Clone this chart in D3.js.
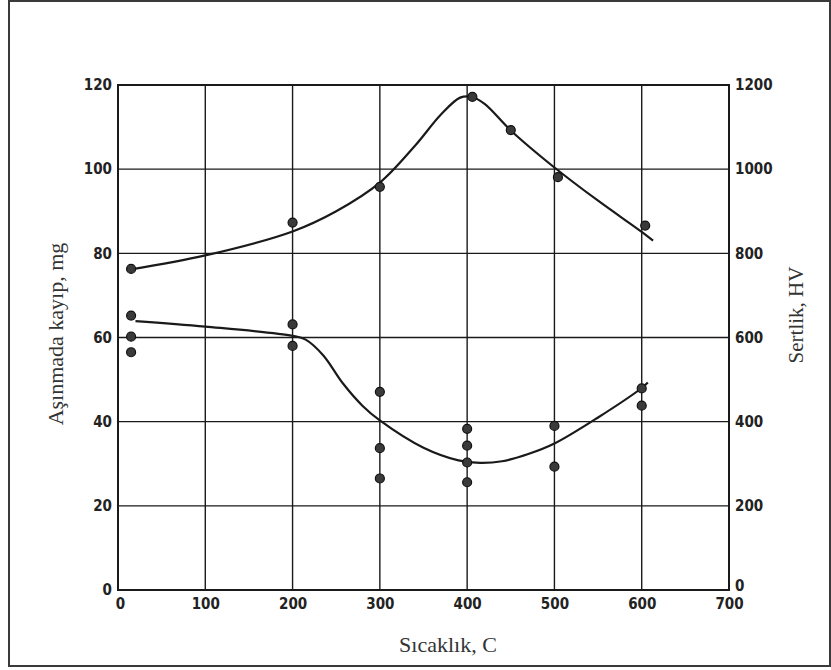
<!DOCTYPE html>
<html>
<head>
<meta charset="utf-8">
<script src="https://cdn.jsdelivr.net/npm/d3@7"></script>
<style>
  html, body { margin: 0; padding: 0; background: #fff; }
  svg { display: block; }
</style>
</head>
<body>
<svg id="chart" width="831" height="670"></svg>
<script>
// ---- data ----
const xTicks = [0, 100, 200, 300, 400, 500, 600, 700];
const leftTicks = [0, 20, 40, 60, 80, 100, 120];
const rightTicks = [0, 200, 400, 600, 800, 1000, 1200];

// Hardness (HV, right axis) measured points: [temperature, HV]
const hardnessPoints = [
  [15, 763], [200, 873], [300, 958], [406, 1172], [450, 1093], [504, 981], [604, 866]
];
// Hardness fitted curve
const hardnessCurve = [
  [15, 762], [100, 795], [200, 852], [250, 900], [300, 968], [340, 1055],
  [370, 1130], [392, 1170], [405, 1172], [420, 1155], [450, 1092], [500, 1004],
  [550, 925], [600, 851], [613, 830]
];

// Wear loss (mg, left axis) measured points: [temperature, mg]
const wearPoints = [
  [15, 65.2], [15, 60.2], [15, 56.5],
  [200, 63.1], [200, 58.0],
  [300, 47.1], [300, 33.7], [300, 26.5],
  [400, 38.3], [400, 34.3], [400, 30.3], [400, 25.6],
  [500, 39.0], [500, 29.3],
  [600, 47.9], [600, 43.8]
];
// Wear fitted curve
const wearCurve = [
  [20, 63.9], [100, 62.6], [200, 60.4], [215, 59.5], [235, 55.8], [258, 49.0],
  [280, 43.8], [300, 40.3], [350, 33.8], [390, 30.8], [415, 30.2], [440, 30.6],
  [470, 32.3], [500, 34.8], [550, 41.0], [600, 48.0], [607, 49.3]
];

const xTitle = "Sıcaklık, C";
const leftTitle = "Aşınmada kayıp, mg";
const rightTitle = "Sertlik, HV";

// ---- layout ----
const svg = d3.select("#chart");
const W = 831, H = 670;
const plot = { left: 118, right: 729, top: 85, bottom: 590 };

const x = d3.scaleLinear().domain([0, 700]).range([plot.left, plot.right]);
const yL = d3.scaleLinear().domain([0, 120]).range([plot.bottom, plot.top]);
const yR = d3.scaleLinear().domain([0, 1200]).range([plot.bottom, plot.top]);

const ink = "#1a1a1a";
const tickFont = "'DejaVu Sans Condensed', 'DejaVu Sans', sans-serif";
const titleFont = "'Liberation Serif', 'Times New Roman', serif";

// outer frame
svg.append("rect")
  .attr("x", 9).attr("y", 1).attr("width", W - 10).attr("height", 665)
  .attr("fill", "#fff").attr("stroke", "#3a3a3a").attr("stroke-width", 2);

// grid
const g = svg.append("g");
g.selectAll("line.vg").data(xTicks.slice(1, -1)).join("line")
  .attr("x1", d => x(d)).attr("x2", d => x(d))
  .attr("y1", plot.top).attr("y2", plot.bottom)
  .attr("stroke", ink).attr("stroke-width", 1.4);
g.selectAll("line.hg").data(leftTicks.slice(1, -1)).join("line")
  .attr("x1", plot.left).attr("x2", plot.right)
  .attr("y1", d => yL(d)).attr("y2", d => yL(d))
  .attr("stroke", ink).attr("stroke-width", 1.4);

// plot frame
g.append("rect")
  .attr("x", plot.left).attr("y", plot.top)
  .attr("width", plot.right - plot.left).attr("height", plot.bottom - plot.top)
  .attr("fill", "none").attr("stroke", ink).attr("stroke-width", 2);

// axes (labels only, via d3 axes)
const axStyle = sel => {
  sel.select(".domain").remove();
  sel.selectAll(".tick line").remove();
  sel.selectAll("text")
    .attr("font-family", tickFont)
    .attr("font-stretch", "condensed")
    .attr("font-weight", "bold")
    .attr("font-size", 15)
    .attr("fill", "#222");
};

svg.append("g")
  .attr("transform", `translate(0,${plot.bottom})`)
  .call(d3.axisBottom(x).tickValues(xTicks).tickFormat(d3.format("d")).tickSize(0).tickPadding(8))
  .call(axStyle)
  .selectAll("text").attr("dx", (d) => d === 0 ? 2 : 0);

svg.append("g")
  .attr("transform", `translate(${plot.left},0)`)
  .call(d3.axisLeft(yL).tickValues(leftTicks).tickFormat(d3.format("d")).tickSize(0).tickPadding(6))
  .call(axStyle);

const rAx = svg.append("g")
  .attr("transform", `translate(${plot.right},0)`)
  .call(d3.axisRight(yR).tickValues(rightTicks).tickFormat(d3.format("d")).tickSize(0).tickPadding(6))
  .call(axStyle);
rAx.selectAll(".tick text").attr("dy", d => d === 0 ? "0.05em" : "0.32em");

// curves
const lineH = d3.line().x(d => x(d[0])).y(d => yR(d[1])).curve(d3.curveCatmullRom.alpha(0.5));
const lineW = d3.line().x(d => x(d[0])).y(d => yL(d[1])).curve(d3.curveCatmullRom.alpha(0.5));

svg.append("path").datum(hardnessCurve)
  .attr("d", lineH).attr("fill", "none").attr("stroke", ink).attr("stroke-width", 2.2);
svg.append("path").datum(wearCurve)
  .attr("d", lineW).attr("fill", "none").attr("stroke", ink).attr("stroke-width", 2.2);

// points
svg.append("g").selectAll("circle").data(hardnessPoints).join("circle")
  .attr("cx", d => x(d[0])).attr("cy", d => yR(d[1])).attr("r", 4.5)
  .attr("fill", "#3a3a3a").attr("stroke", "#111").attr("stroke-width", 1.2);
svg.append("g").selectAll("circle").data(wearPoints).join("circle")
  .attr("cx", d => x(d[0])).attr("cy", d => yL(d[1])).attr("r", 4.5)
  .attr("fill", "#3a3a3a").attr("stroke", "#111").attr("stroke-width", 1.2);

// titles
svg.append("text")
  .attr("x", 448).attr("y", 652)
  .attr("text-anchor", "middle")
  .attr("font-family", titleFont).attr("font-size", 22).attr("fill", "#333")
  .text(xTitle);

svg.append("text")
  .attr("transform", `translate(63,334) rotate(-90)`)
  .attr("text-anchor", "middle")
  .attr("font-family", titleFont).attr("font-size", 22).attr("fill", "#333")
  .text(leftTitle);

svg.append("text")
  .attr("transform", `translate(803,315) rotate(-90)`)
  .attr("text-anchor", "middle")
  .attr("font-family", titleFont).attr("font-size", 21).attr("fill", "#333")
  .text(rightTitle);
</script>
</body>
</html>
